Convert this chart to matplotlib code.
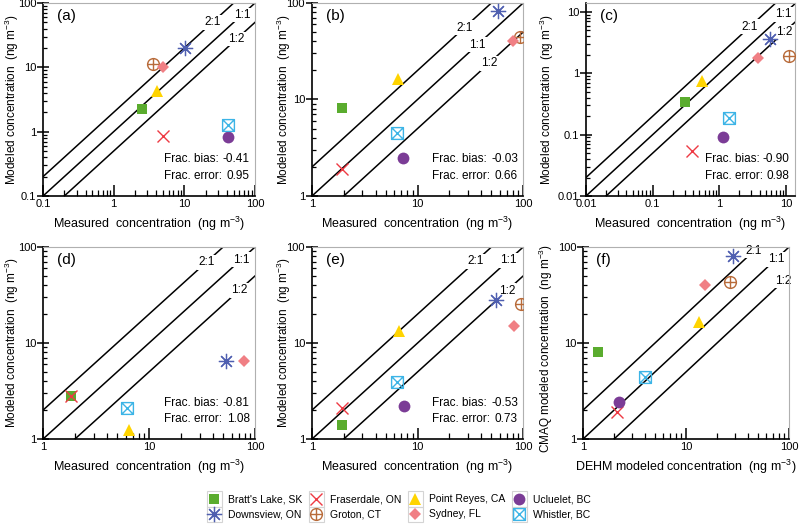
import numpy as np
import matplotlib
matplotlib.use('Agg')
import matplotlib.pyplot as plt
from matplotlib.path import Path
from matplotlib.lines import Line2D
from matplotlib.patches import Rectangle
from matplotlib.legend_handler import HandlerBase
from matplotlib.ticker import FuncFormatter, LogLocator

plt.rcParams['font.family'] = ['Liberation Sans', 'DejaVu Sans']
plt.rcParams['mathtext.default'] = 'regular'

# sites (legend order)
sites = ["Bratt's Lake, SK", "Downsview, ON", "Fraserdale, ON", "Groton, CT",
         "Point Reyes, CA", "Sydney, FL", "Ucluelet, BC", "Whistler, BC"]

# measured / modeled values per panel, same site order
a_x = [2.5, 10.3, 5.0, 3.6, 4.1, 5.0, 41, 41]
a_y = [2.25, 20.2, 0.86, 11.2, 4.3, 10.0, 0.84, 1.28]
b_x = [1.91, 57.5, 1.91, 93, 6.58, 79.8, 7.29, 6.4]
b_y = [8.2, 81.8, 1.92, 44.8, 16.4, 40.6, 2.46, 4.46]
c_x = [0.30, 5.77, 0.39, 11.0, 0.54, 3.73, 1.15, 1.39]
c_y = [0.342, 3.57, 0.0546, 1.91, 0.74, 1.78, 0.093, 0.185]
d_x = [1.83, 52.7, 1.83, np.nan, 6.46, 78.7, np.nan, 6.2]
d_y = [2.83, 6.44, 2.83, np.nan, 1.23, 6.44, np.nan, 2.09]
e_x = [1.93, 55.3, 1.93, 95.7, 6.64, 82, 7.36, 6.45]
e_y = [1.39, 27.8, 2.11, 25.6, 13.2, 14.9, 2.19, 3.9]
f_x = [1.40, 28.8, 2.12, 26.9, 13.4, 15.4, 2.22, 3.97]
f_y = [8.15, 81, 1.91, 43.1, 16.6, 40.5, 2.45, 4.44]

frac_bias = ['-0.41', '-0.03', '-0.90', '-0.81', '-0.53', None]
frac_error = ['0.95', '0.66', '0.98', '1.08', '0.73', None]

# marker styles
circ_plus = Path.make_compound_path(
    Path.unit_circle(),
    Path([[-1, 0], [1, 0], [0, -1], [0, 1]], [1, 2, 1, 2]))
box_x = Path([[-1, -1], [1, -1], [1, 1], [-1, 1], [-1, -1],
              [-1, -1], [1, 1], [-1, 1], [1, -1]],
             [1, 2, 2, 2, 79, 1, 2, 1, 2])
styles = [
    dict(marker='s', color='#5aac2e', ms=7.5, mfc='#5aac2e', mew=0),
    dict(marker=(8, 2, 0), color='#4f5fb0', ms=11, mew=0.9),
    dict(marker='x', color='#ee3a43', ms=8, mew=1.0),
    dict(marker=circ_plus, color='#b86b3a', ms=8.5, mfc='none', mew=1.0),
    dict(marker='^', color='#ffd400', ms=9, mfc='#ffd400', mew=0),
    dict(marker='D', color='#f07f84', ms=6.5, mfc='#f07f84', mew=0),
    dict(marker='o', color='#7b3c96', ms=8.5, mfc='#7b3c96', mew=0),
    dict(marker=box_x, color='#3cb4e6', ms=8.5, mfc='none', mew=1.0),
]

fig = plt.figure(figsize=(8, 5.26), dpi=100)

panels = [
    ('(a)', a_x, a_y, (0.1, 100), (0.1, 100), [0.0538, 0.6274, 0.265, 0.367], (25, 65, 55), -0.105),
    ('(b)', b_x, b_y, (1, 100), (1, 100), [0.39, 0.6274, 0.264, 0.367], (27.8, 37, 47.6), -0.09),
    ('(c)', c_x, c_y, (0.01, 13.5), (0.01, 14), [0.7325, 0.6274, 0.261, 0.367], (2.87, 9.2, 9.4), -0.145),
    ('(d)', d_x, d_y, (1, 100), (1, 100), [0.0538, 0.1654, 0.265, 0.365], (34.8, 74, 71), -0.105),
    ('(e)', e_x, e_y, (1, 100), (1, 100), [0.39, 0.1654, 0.264, 0.365], (35.4, 73, 70), -0.09),
    ('(f)', f_x, f_y, (1, 100), (1, 100), [0.7288, 0.1654, 0.2575, 0.365], (45.7, 74.8, 88.8), -0.135),
]

fmt = FuncFormatter(lambda v, p: '%g' % v)

for i, (tag, xs, ys, xl, yl, pos, lab_x, ylab_x) in enumerate(panels):
    ax = fig.add_axes(pos)
    ax.set_xscale('log')
    ax.set_yscale('log')

    xx = np.logspace(np.log10(xl[0]) - 0.5, np.log10(xl[1]) + 0.5, 50)
    for ratio, lx, txt in zip([2, 1, 0.5], lab_x, ['2:1', '1:1', '1:2']):
        ax.plot(xx, ratio * xx, color='black', lw=1.1, zorder=1)
        ax.text(lx, ratio * lx, txt, fontsize=8.5, ha='center', va='center',
                bbox=dict(facecolor='white', edgecolor='none', pad=1.0), zorder=2)

    for k in range(len(sites)):
        ax.plot([xs[k]], [ys[k]], linestyle='none', zorder=3, **styles[k])

    ax.set_xlim(xl)
    ax.set_ylim(yl)

    for s in ['top', 'right']:
        ax.spines[s].set_color('#b0b0b0')
        ax.spines[s].set_linewidth(0.8)
    for s in ['left', 'bottom']:
        ax.spines[s].set_linewidth(1.2)

    ax.xaxis.set_major_formatter(fmt)
    ax.yaxis.set_major_formatter(fmt)
    ax.xaxis.set_minor_formatter(FuncFormatter(lambda v, p: ''))
    ax.yaxis.set_minor_formatter(FuncFormatter(lambda v, p: ''))
    ax.xaxis.set_minor_locator(LogLocator(base=10, subs=np.arange(2, 10), numticks=20))
    ax.yaxis.set_minor_locator(LogLocator(base=10, subs=np.arange(2, 10), numticks=20))
    ax.tick_params(axis='x', which='major', direction='in', length=8, width=1.1, labelsize=8, pad=2)
    ax.tick_params(axis='x', which='minor', direction='in', length=4, width=0.9)
    ax.tick_params(axis='y', which='major', direction='inout', length=8, width=1.1, labelsize=8, pad=1)
    ax.tick_params(axis='y', which='minor', direction='in', length=3, width=0.9)

    ax.text(0.065, 0.93, tag, transform=ax.transAxes, fontsize=11, ha='left', va='center')

    if frac_bias[i] is not None:
        ax.text(0.57, 0.19, 'Frac. bias:', transform=ax.transAxes, fontsize=8.5, ha='left', va='center')
        ax.text(0.975, 0.19, frac_bias[i], transform=ax.transAxes, fontsize=8.5, ha='right', va='center')
        ax.text(0.57, 0.105, 'Frac. error:', transform=ax.transAxes, fontsize=8.5, ha='left', va='center')
        ax.text(0.975, 0.105, frac_error[i], transform=ax.transAxes, fontsize=8.5, ha='right', va='center')

    if tag == '(f)':
        ax.set_xlabel('DEHM modeled concentration  (ng m$^{-3}$)', fontsize=9, labelpad=4)
        ax.set_ylabel('CMAQ modeled concentration  (ng m$^{-3}$)', fontsize=8.5)
        ax.yaxis.set_label_coords(ylab_x, 0.47)
    else:
        ax.set_xlabel('Measured  concentration  (ng m$^{-3}$)', fontsize=9, labelpad=4)
        ax.set_ylabel('Modeled concentration  (ng m$^{-3}$)', fontsize=8.5)
        ax.yaxis.set_label_coords(ylab_x, 0.5)


# legend: marker inside a light grey box
class BoxHandler(HandlerBase):
    def create_artists(self, legend, orig_handle, xdescent, ydescent,
                       width, height, fontsize, trans):
        side = height
        cx = width / 2 - xdescent
        cy = height / 2 - ydescent
        rect = Rectangle((cx - side / 2, cy - side / 2), side, side,
                         facecolor='none', edgecolor='#d4d4d4', lw=0.8, transform=trans)
        m = Line2D([cx], [cy], linestyle='none', marker=orig_handle.get_marker(),
                   color=orig_handle.get_color(), ms=orig_handle.get_markersize(),
                   mfc=orig_handle.get_markerfacecolor(),
                   mew=orig_handle.get_markeredgewidth(), transform=trans)
        return [rect, m]


handles = [Line2D([], [], linestyle='none', **st) for st in styles]
fig.legend(handles, sites, loc='center', bbox_to_anchor=(0.497, 0.037), ncol=4,
           frameon=False, fontsize=7.5, handler_map={Line2D: BoxHandler()},
           handlelength=1.9, handleheight=1.85, handletextpad=0.35,
           labelspacing=0.0, columnspacing=0.4, borderpad=0)

fig.savefig('out.png', dpi=100)
